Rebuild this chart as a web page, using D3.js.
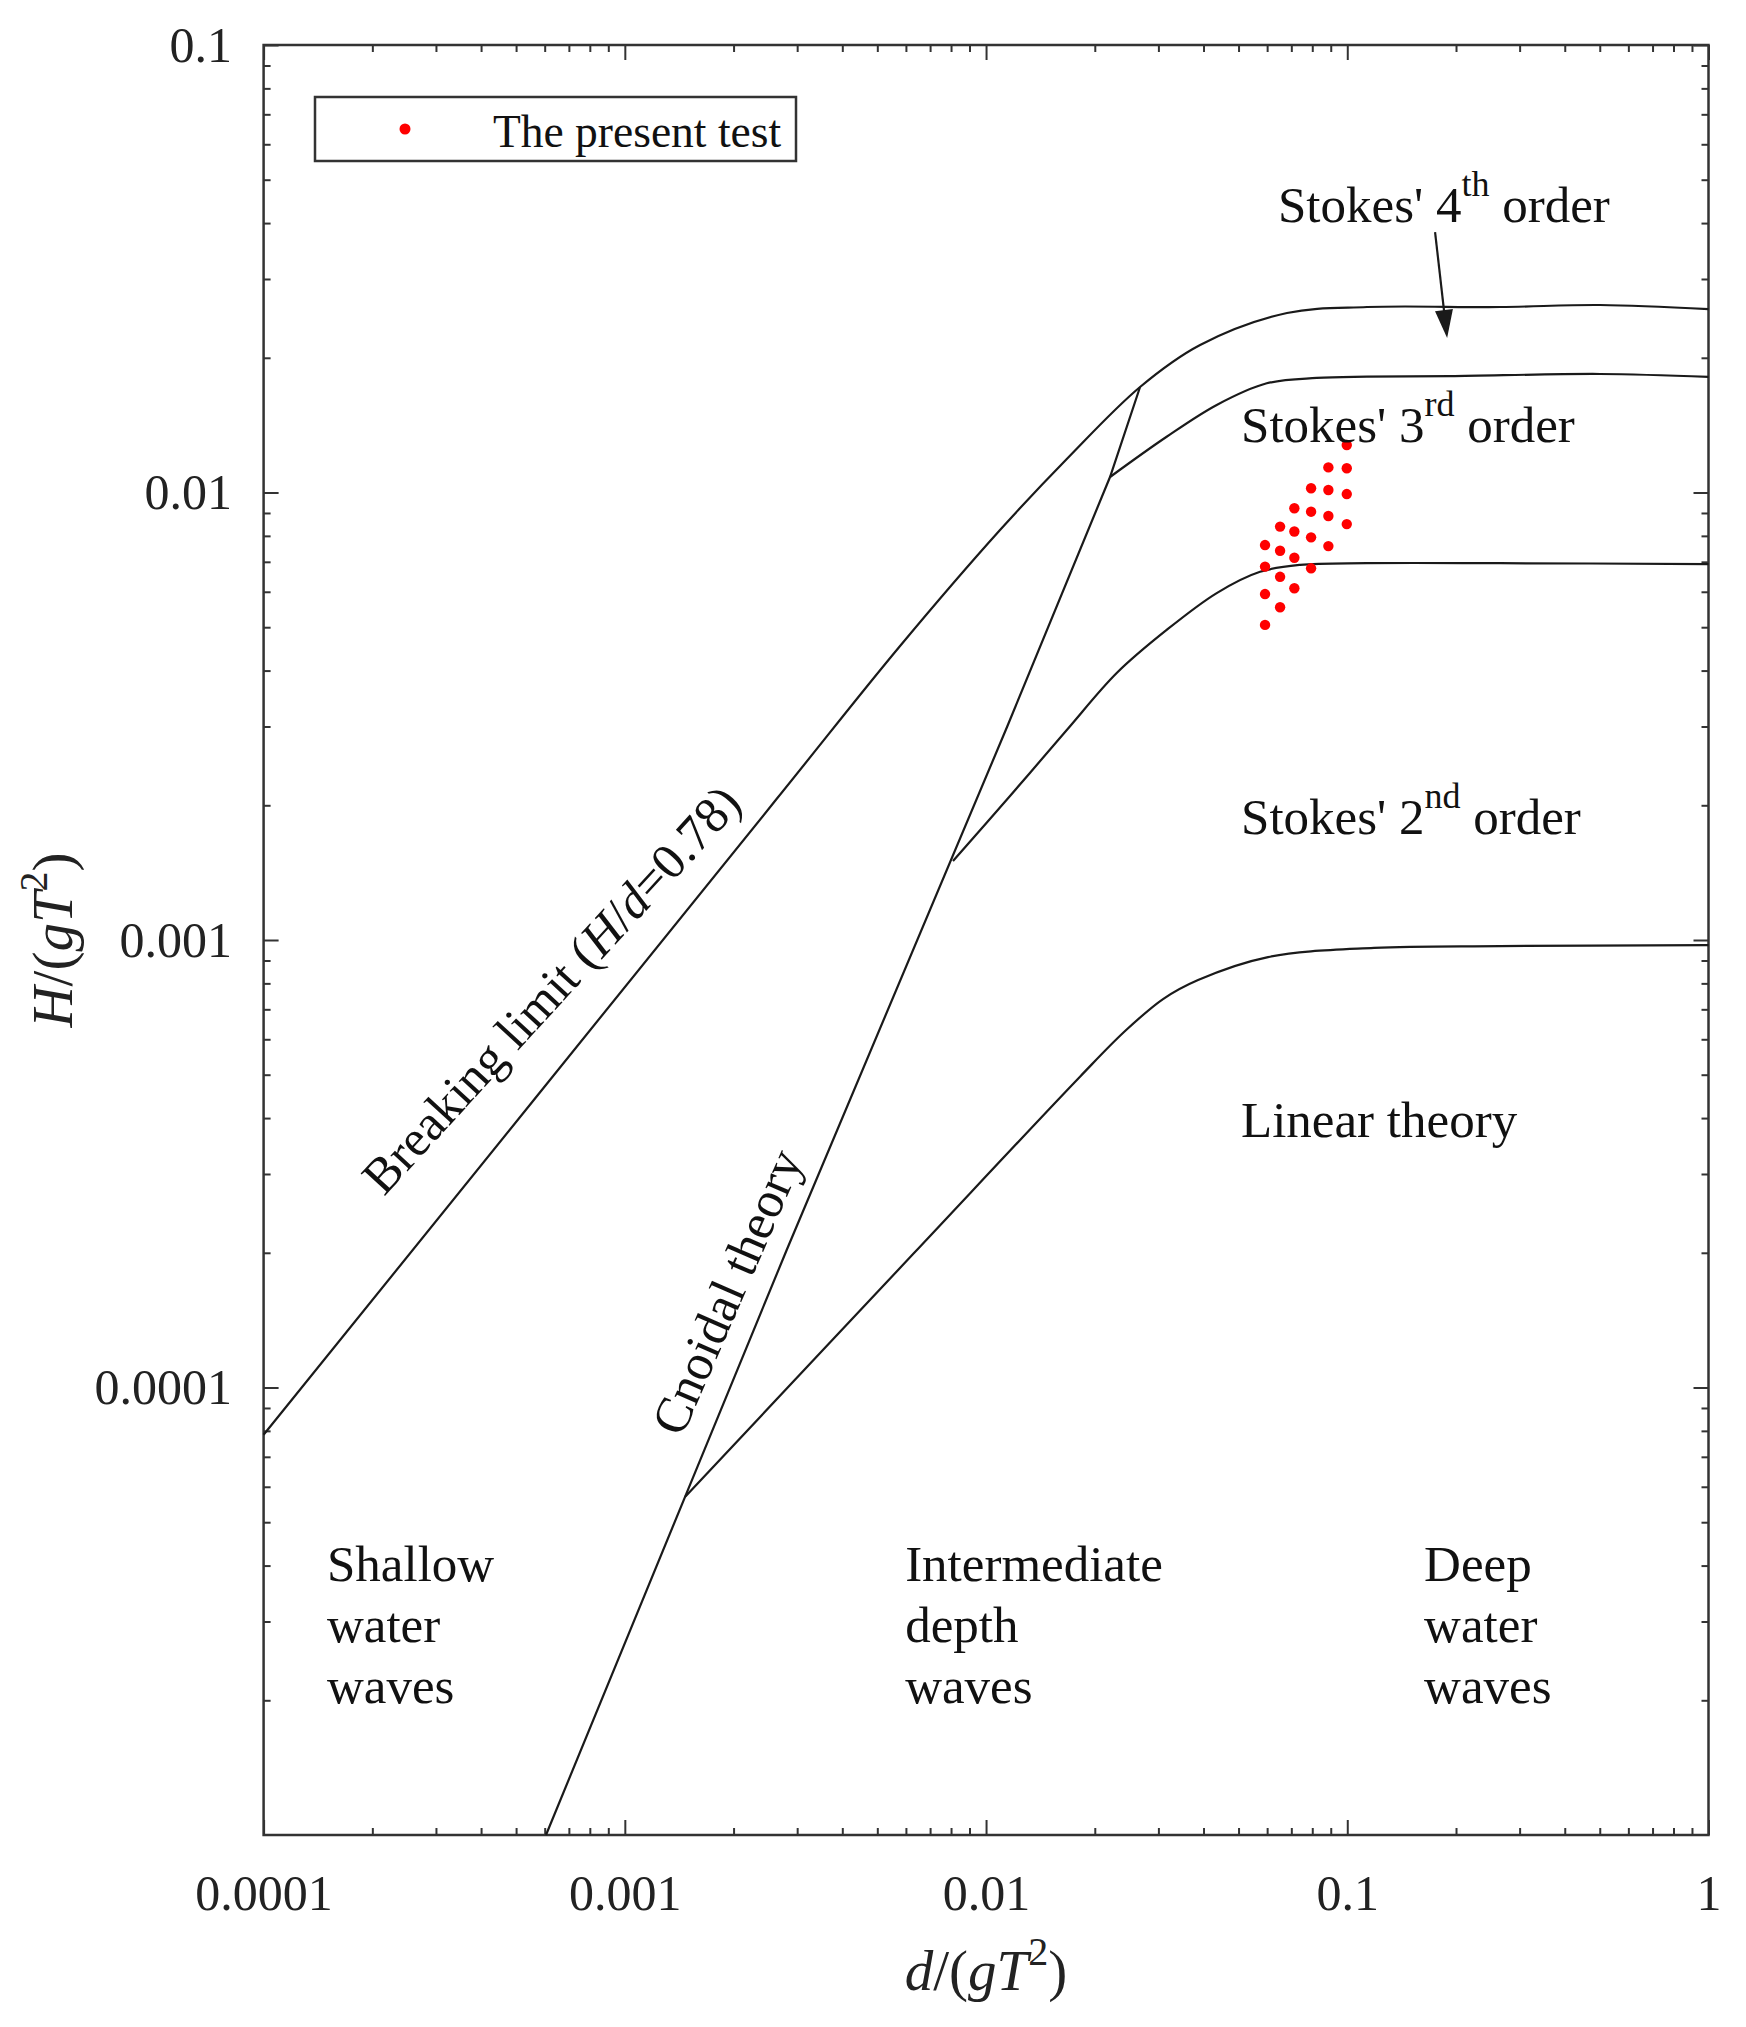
<!DOCTYPE html>
<html>
<head>
<meta charset="utf-8">
<style>
  body { margin: 0; background: #fff; }
  svg { display: block; font-family: "Liberation Serif", "Times New Roman", Times, serif; }
</style>
</head>
<body>
<svg width="1746" height="2027"></svg>
<script src="https://d3js.org/d3.v7.min.js"></script>
<script>

// START: data (d/gT^2, H/gT^2)
const breakingLimit = [
  [1e-4, 7.84e-5], [2.604e-3, 2.044e-3], [5.78e-3, 4.539e-3], [0.01093, 8.245e-3],
  [0.01673, 0.01188], [0.02669, 0.01721], [0.03914, 0.02136], [0.0681, 0.02518],
  [0.1134, 0.02597], [0.2649, 0.02597], [0.501, 0.02624], [1, 0.0257]
];
const stokes34 = [
  [0.02204, 0.01083], [0.03162, 0.01332], [0.04351, 0.01569], [0.05985, 0.01754],
  [0.0823, 0.01803], [0.1132, 0.01815], [0.1926, 0.0182], [0.501, 0.0184], [1, 0.01812]
];
const stokes23 = [
  [8.10e-3, 1.501e-3], [0.01165, 2.098e-3], [0.01673, 2.946e-3], [0.023, 3.95e-3],
  [0.03162, 4.93e-3], [0.04351, 5.96e-3], [0.05735, 6.65e-3], [0.074, 6.89e-3],
  [0.1132, 6.95e-3], [0.2649, 6.95e-3], [1, 6.92e-3]
];
const linearLimit = [
  [1.467e-3, 5.69e-5], [6.28e-3, 1.987e-4], [0.0182, 4.95e-4], [0.02426, 6.26e-4],
  [0.0309, 7.38e-4], [0.03863, 8.14e-4], [0.06035, 9.16e-4], [0.1186, 9.60e-4],
  [0.2649, 9.69e-4], [1, 9.74e-4]
];
const cnoidal = [
  [6.05e-4, 1e-5], [1.467e-3, 5.69e-5], [2.806e-3, 2.029e-4], [0.01143, 2.992e-3],
  [0.02204, 0.01083], [0.02669, 0.01721]
];
const presentTest = [
  [0.0592, 7.63e-3], [0.0592, 6.83e-3], [0.0592, 5.93e-3], [0.0592, 5.06e-3],
  [0.06516, 8.39e-3], [0.06516, 7.41e-3], [0.06516, 6.48e-3], [0.06516, 5.54e-3],
  [0.07137, 9.22e-3], [0.07137, 8.18e-3], [0.07137, 7.15e-3], [0.07137, 6.11e-3],
  [0.0794, 0.01022], [0.0794, 9.06e-3], [0.0794, 7.94e-3], [0.0794, 6.77e-3],
  [0.08865, 0.01138], [0.08865, 0.01013], [0.08865, 8.86e-3], [0.08865, 7.59e-3],
  [0.09968, 0.01277], [0.09968, 0.01133], [0.09968, 9.92e-3], [0.09968, 8.50e-3]
];

const xMajor = [1e-4, 1e-3, 1e-2, 1e-1, 1];
const xTickLabels = ["0.0001", "0.001", "0.01", "0.1", "1"];
const yMajor = [1e-4, 1e-3, 1e-2, 1e-1];
const yTickLabels = ["0.0001", "0.001", "0.01", "0.1"];
// END: data


const svg = d3.select("svg"),
    width = +svg.attr("width"),
    height = +svg.attr("height");
const margin = {top: 45, right: 37.5, bottom: 192, left: 263.6};
const ink = "#1a1a1a", frameInk = "#333";

const x = d3.scaleLog().domain([1e-4, 1]).range([margin.left, width - margin.right]);
const y = d3.scaleLog().domain([1e-5, 0.1]).range([height - margin.bottom, margin.top]);

const isDecade = v => Math.abs(Math.log10(v) - Math.round(Math.log10(v))) < 1e-6;
const xMinor = x.ticks().filter(v => !isDecade(v));
const yMinor = y.ticks().filter(v => !isDecade(v));

// axes, ticks pointing inward on all four sides
function addAxis(axis, tx, ty) {
  const g = svg.append("g")
    .attr("transform", "translate(" + tx + "," + ty + ")")
    .call(axis);
  g.attr("font-family", null).attr("font-size", 50).attr("color", frameInk);
  g.select(".domain").remove();
  g.selectAll(".tick line").attr("stroke-width", 2);
  g.selectAll(".tick text").attr("fill", "#222");
  return g;
}
const bottomY = height - margin.bottom, rightX = width - margin.right;

addAxis(d3.axisBottom(x).tickValues(xMajor).tickSize(-15).tickPadding(39.5)
  .tickFormat((d, i) => xTickLabels[i]), 0, bottomY);
addAxis(d3.axisBottom(x).tickValues(xMinor).tickSize(-7).tickFormat(""), 0, bottomY);
addAxis(d3.axisTop(x).tickValues(xMajor).tickSize(-15).tickFormat(""), 0, margin.top);
addAxis(d3.axisTop(x).tickValues(xMinor).tickSize(-7).tickFormat(""), 0, margin.top);

addAxis(d3.axisLeft(y).tickValues(yMajor).tickSize(-15).tickPadding(31.6)
  .tickFormat((d, i) => yTickLabels[i]), margin.left, 0);
addAxis(d3.axisLeft(y).tickValues(yMinor).tickSize(-7).tickFormat(""), margin.left, 0);
addAxis(d3.axisRight(y).tickValues(yMajor).tickSize(-15).tickFormat(""), rightX, 0);
addAxis(d3.axisRight(y).tickValues(yMinor).tickSize(-7).tickFormat(""), rightX, 0);

svg.append("rect")
  .attr("x", margin.left).attr("y", margin.top)
  .attr("width", rightX - margin.left).attr("height", bottomY - margin.top)
  .attr("fill", "none").attr("stroke", frameInk).attr("stroke-width", 2.5);

// curves
const smooth = d3.line().x(d => x(d[0])).y(d => y(d[1])).curve(d3.curveCatmullRom.alpha(0.5));
const straight = d3.line().x(d => x(d[0])).y(d => y(d[1]));

[breakingLimit, stokes34, stokes23, linearLimit].forEach(function(c) {
  svg.append("path").attr("d", smooth(c))
    .attr("fill", "none").attr("stroke", ink).attr("stroke-width", 2.2);
});
svg.append("path").attr("d", straight(cnoidal))
  .attr("fill", "none").attr("stroke", ink).attr("stroke-width", 2.2);

// test points
svg.append("g").selectAll("circle")
  .data(presentTest)
  .enter()
  .append("circle")
  .attr("cx", d => x(d[0]))
  .attr("cy", d => y(d[1]))
  .attr("r", 5.2)
  .attr("fill", "#ff0000");

// legend
svg.append("rect").attr("x", 315).attr("y", 97).attr("width", 481).attr("height", 64)
  .attr("fill", "#fff").attr("stroke", frameInk).attr("stroke-width", 2.5);
svg.append("circle").attr("cx", 405).attr("cy", 129).attr("r", 5.5).attr("fill", "#ff0000");
svg.append("text").attr("x", 493).attr("y", 146.5).attr("font-size", 45.5)
  .attr("fill", "#111").text("The present test");

// region labels
function stokesLabel(pos, num, sup) {
  const t = svg.append("text").attr("x", x(pos[0])).attr("y", y(pos[1]))
    .attr("font-size", 51).attr("fill", "#111");
  t.append("tspan").text("Stokes' " + num);
  t.append("tspan").attr("font-size", 36).attr("dy", -26).text(sup);
  t.append("tspan").attr("dy", 26).text(" order");
}
stokesLabel([0.0643, 0.0402], "4", "th");
stokesLabel([0.0508, 0.01297], "3", "rd");
stokesLabel([0.0508, 1.725e-3], "2", "nd");

svg.append("text").attr("x", x(0.0508)).attr("y", y(3.63e-4))
  .attr("font-size", 51).attr("fill", "#111").text("Linear theory");

function blockLabel(xv, lines) {
  const t = svg.append("text").attr("font-size", 51).attr("fill", "#111");
  lines.forEach(function(s, i) {
    t.append("tspan").attr("x", x(xv)).attr("y", y(3.69e-5) + i * 61).text(s);
  });
}
blockLabel(1.498e-4, ["Shallow", "water", "waves"]);
blockLabel(5.97e-3, ["Intermediate", "depth", "waves"]);
blockLabel(0.1632, ["Deep", "water", "waves"]);

// arrow to Stokes' 4th order band
const aFrom = [x(0.175), y(0.0382)], aTo = [x(0.189), y(0.02215)];
const len = Math.hypot(aTo[0] - aFrom[0], aTo[1] - aFrom[1]);
const ux = (aTo[0] - aFrom[0]) / len, uy = (aTo[1] - aFrom[1]) / len;
svg.append("line")
  .attr("x1", aFrom[0]).attr("y1", aFrom[1])
  .attr("x2", aTo[0] - 20 * ux).attr("y2", aTo[1] - 20 * uy)
  .attr("stroke", ink).attr("stroke-width", 2.2);
svg.append("path")
  .attr("d", "M" + aTo[0] + "," + aTo[1] +
    "L" + (aTo[0] - 28 * ux - 9 * uy) + "," + (aTo[1] - 28 * uy + 9 * ux) +
    "L" + (aTo[0] - 28 * ux + 9 * uy) + "," + (aTo[1] - 28 * uy - 9 * ux) + "Z")
  .attr("fill", ink);

// rotated line labels
const brk = svg.append("text")
  .attr("transform", "translate(" + x(2.154e-4) + "," + y(2.665e-4) + ") rotate(-47.5)")
  .attr("font-size", 50.5).attr("fill", "#111");
brk.append("tspan").text("Breaking limit (");
brk.append("tspan").attr("font-style", "italic").text("H");
brk.append("tspan").text("/");
brk.append("tspan").attr("font-style", "italic").text("d");
brk.append("tspan").text("=0.78)");

svg.append("text")
  .attr("transform", "translate(" + x(1.44e-3) + "," + y(7.7e-5) + ") rotate(-66.5)")
  .attr("font-size", 51).attr("fill", "#111").text("Cnoidal theory");

// axis titles
const xt = svg.append("text")
  .attr("x", (margin.left + rightX) / 2).attr("y", 1990)
  .attr("text-anchor", "middle").attr("font-size", 57).attr("fill", "#222");
xt.append("tspan").attr("font-style", "italic").text("d");
xt.append("tspan").text("/(");
xt.append("tspan").attr("font-style", "italic").text("gT");
xt.append("tspan").attr("font-size", 40).attr("dy", -25).text("2");
xt.append("tspan").attr("dy", 25).text(")");

const yt = svg.append("text")
  .attr("transform", "translate(72," + (margin.top + bottomY) / 2 + ") rotate(-90)")
  .attr("text-anchor", "middle").attr("font-size", 57).attr("fill", "#222");
yt.append("tspan").attr("font-style", "italic").text("H");
yt.append("tspan").text("/(");
yt.append("tspan").attr("font-style", "italic").text("gT");
yt.append("tspan").attr("font-size", 40).attr("dy", -25).text("2");
yt.append("tspan").attr("dy", 25).text(")");

</script>
</body>
</html>
